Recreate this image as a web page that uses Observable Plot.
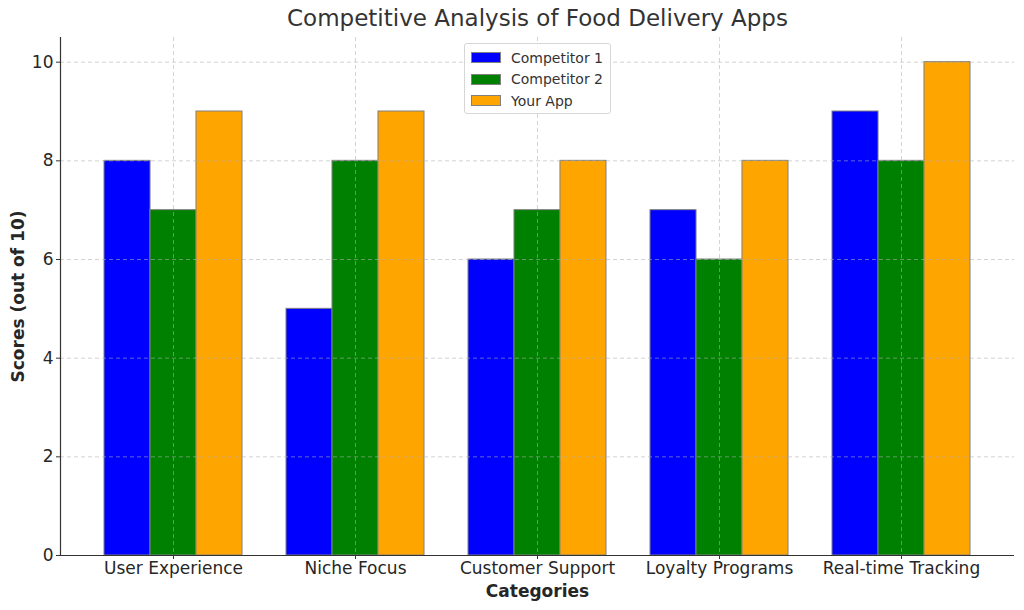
<!DOCTYPE html>
<html>
<head>
<meta charset="utf-8">
<script src="https://cdn.jsdelivr.net/npm/d3@7"></script>
<script src="https://cdn.jsdelivr.net/npm/@observablehq/plot@0.6"></script>
<style>
  html, body { margin: 0; padding: 0; background: #fff; }
  #wrap { position: relative; width: 1024px; height: 610px; font-family: "DejaVu Sans", sans-serif; }
  #legend {
    position: absolute; left: 464px; top: 43px; width: 147px; height: 71px;
    border: 1px solid #d6d6d6; border-radius: 3px; background: rgba(255,255,255,0.85);
    box-sizing: border-box; padding: 3px 0 0 6px; font-size: 14px; color: #333;
  }
  .item { display: flex; align-items: center; height: 21.5px; }
  .sw { width: 28px; height: 9px; border: 1px solid #808080; margin-right: 10px; }
</style>
</head>
<body>
<div id="wrap"><div id="legend"></div></div>
<script>
const categories = ["User Experience", "Niche Focus", "Customer Support", "Loyalty Programs", "Real-time Tracking"];
const seriesNames = ["Competitor 1", "Competitor 2", "Your App"];
const competitor1 = [8, 5, 6, 7, 9];
const competitor2 = [7, 8, 7, 6, 8];
const yourApp = [9, 9, 8, 8, 10];
const seriesColors = ["#0000ff", "#008000", "#ffa500"];
const yTicks = [0, 2, 4, 6, 8, 10];

const seriesValues = [competitor1, competitor2, yourApp];

const width = 1024, height = 610;
const marginLeft = 60, marginRight = 10, marginTop = 37, marginBottom = 55;
const paddingInner = 0.244, paddingOuter = 0.236;
const n = categories.length;
const step = (width - marginLeft - marginRight) / (n - paddingInner + 2 * paddingOuter);
const third = step * (1 - paddingInner) / seriesNames.length;

const barMarks = seriesNames.map((name, i) =>
  Plot.barY(categories.map((c, j) => ({category: c, value: seriesValues[i][j]})), {
    x: "category",
    y: "value",
    fill: seriesColors[i],
    stroke: "#808080",
    strokeWidth: 1,
    insetLeft: i * third,
    insetRight: (seriesNames.length - 1 - i) * third
  })
);

const gridStyle = {stroke: "#b0b0b0", strokeOpacity: 0.7, strokeDasharray: "4,3", strokeWidth: 0.8};

const chart = Plot.plot({
  width, height, marginLeft, marginRight, marginTop, marginBottom,
  style: {fontFamily: "DejaVu Sans, sans-serif", color: "#262626", background: "white"},
  x: {domain: categories, paddingInner, paddingOuter, align: 0.5},
  y: {domain: [0, 10.5]},
  marks: [
    ...barMarks,
    Plot.gridY(yTicks, gridStyle),
    Plot.gridX(categories, gridStyle),
    Plot.axisY({ticks: yTicks, tickSize: 4, tickPadding: 3, fontSize: 17, label: null, stroke: "#333"}),
    Plot.axisX({tickSize: 4, tickPadding: 2, fontSize: 17, label: null, stroke: "#333"}),
    Plot.frame({anchor: "left", stroke: "#333", strokeWidth: 1.2}),
    Plot.ruleY([0], {stroke: "#333", strokeWidth: 1.2}),
    Plot.text(["Competitive Analysis of Food Delivery Apps"], {frameAnchor: "top", dy: -28, fontSize: 23, fill: "#333"}),
    Plot.text(["Categories"], {frameAnchor: "bottom", dy: 41, fontSize: 17, fontWeight: "bold", fill: "#262626"}),
    Plot.text(["Scores (out of 10)"], {frameAnchor: "left", dx: -42, rotate: -90, textAnchor: "middle", fontSize: 17, fontWeight: "bold", fill: "#262626"})
  ]
});
document.getElementById("wrap").prepend(chart);

const legend = document.getElementById("legend");
seriesNames.forEach((name, i) => {
  const item = document.createElement("div");
  item.className = "item";
  const sw = document.createElement("div");
  sw.className = "sw";
  sw.style.background = seriesColors[i];
  const label = document.createElement("span");
  label.textContent = name;
  item.append(sw, label);
  legend.append(item);
});
</script>
</body>
</html>
